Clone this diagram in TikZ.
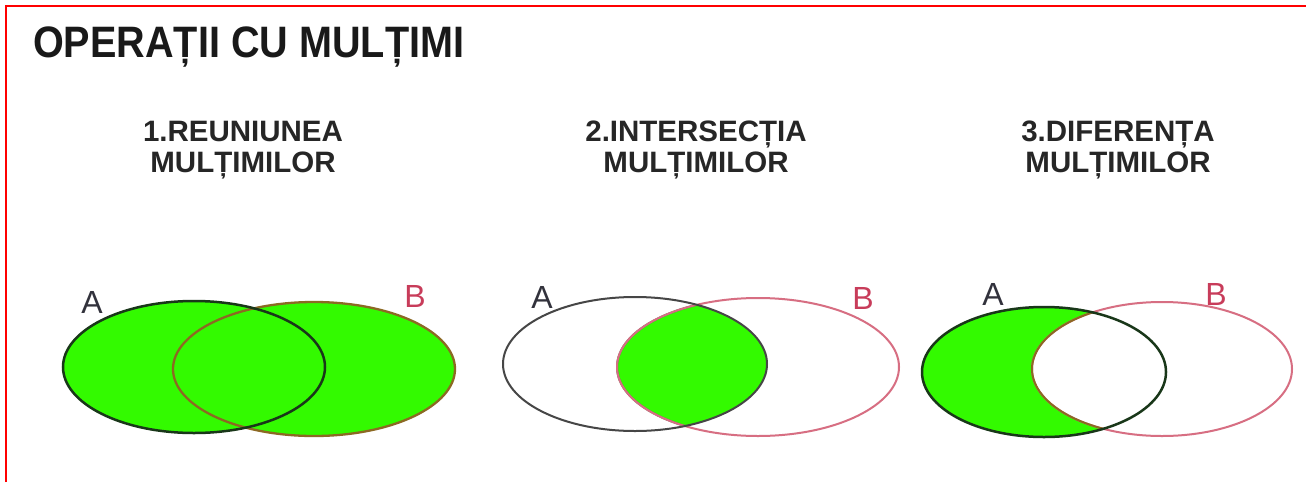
\documentclass[tikz,border=0pt]{standalone}
\usepackage{fontspec}
\setmainfont{Liberation Sans}
\usepackage{tikz}
\definecolor{setgreen}{RGB}{51,250,0}
\definecolor{darkA}{RGB}{25,55,25}
\definecolor{oliveB}{RGB}{140,105,35}
\definecolor{grayA}{RGB}{70,70,70}
\definecolor{pinkB}{RGB}{215,110,130}
\definecolor{labA}{RGB}{50,50,60}
\definecolor{labB}{RGB}{200,60,90}

\begin{document}
\begin{tikzpicture}
[x=1pt, y=-1pt]
\tikzstyle{heading}=[font=\bfseries\fontsize{29.5}{31.5}\selectfont, align=center, text=black!85, inner sep=0pt]
\tikzstyle{letterA}=[font=\fontsize{32}{32}\selectfont, text=labA, inner sep=0pt]
\tikzstyle{letterB}=[font=\fontsize{32}{32}\selectfont, text=labB, inner sep=0pt]
\useasboundingbox (0,0) rectangle (1306,482);
\fill[white] (0,0) rectangle (1306,482);
\draw[red, line width=2.5pt] (6,482) -- (6,6) -- (1306,6);

\node[anchor=base west, xscale=0.9, font=\bfseries\fontsize{44}{44}\selectfont, text=black!90, inner sep=0pt] (title) at (33,57) {OPERAȚII CU MULȚIMI};

\node[heading] (union) at (243,150) {1.REUNIUNEA\\MULȚIMILOR};
\node[heading] (inter) at (696,150) {2.INTERSECȚIA\\MULȚIMILOR};
\node[heading] (diff) at (1118,150) {3.DIFERENȚA\\MULȚIMILOR};

% reuniunea
\fill[setgreen] (194,367) ellipse [x radius=131, y radius=66];
\fill[setgreen] (314,369) ellipse [x radius=141, y radius=67];
\draw[oliveB, line width=2.3pt] (314,369) ellipse [x radius=141, y radius=67];
\draw[darkA, line width=2.5pt] (194,367) ellipse [x radius=131, y radius=66];
\node[letterA] (A1) at (92,302) {A};
\node[letterB] (B1) at (415,296) {B};

% intersectia
\begin{scope}
\clip (635,364) ellipse [x radius=132, y radius=67];
\fill[setgreen] (758,367) ellipse [x radius=141, y radius=69];
\draw[darkA!70, line width=2pt] (758,367) ellipse [x radius=141, y radius=69];
\end{scope}
\draw[pinkB, line width=2pt] (758,367) ellipse [x radius=141, y radius=69];
\draw[grayA, line width=2pt] (635,364) ellipse [x radius=132, y radius=67];
\node[letterA] (A2) at (542,297) {A};
\node[letterB] (B2) at (863,298) {B};

% diferenta
\fill[setgreen] (1044,372) ellipse [x radius=122, y radius=65];
\fill[white] (1162,369) ellipse [x radius=130, y radius=67];
\draw[pinkB, line width=2pt] (1162,369) ellipse [x radius=130, y radius=67];
\begin{scope}
\clip (1044,372) ellipse [x radius=122, y radius=65];
\draw[oliveB, line width=2pt] (1162,369) ellipse [x radius=130, y radius=67];
\end{scope}
\draw[darkA, line width=2.5pt] (1044,372) ellipse [x radius=122, y radius=65];
\node[letterA] (A3) at (993,294) {A};
\node[letterB] (B3) at (1216,294) {B};
\end{tikzpicture}
\end{document}
